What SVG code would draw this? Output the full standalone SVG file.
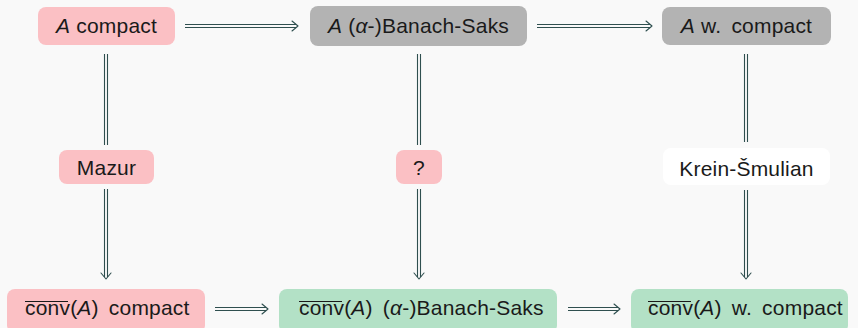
<svg xmlns="http://www.w3.org/2000/svg" width="858" height="328" viewBox="0 0 858 328">
  <defs>
    <style>
      .bg { fill: #f9f9f9; }
      .pink { fill: #fbc0c4; }
      .gray { fill: #b3b3b3; }
      .green { fill: #b3e1c6; }
      .white { fill: #ffffff; }
      .lbl { font-family: "Liberation Sans", Arial, sans-serif; font-size: 21px; fill: #1a1a1a; letter-spacing: 0.2px; }
      .it { font-style: italic; }
      .rail { stroke: #2f4f4f; stroke-width: 1.1; fill: none; }
      .head { stroke: #2f4f4f; stroke-width: 1.1; fill: none; stroke-linecap: round; stroke-linejoin: round; }
      .bar { stroke: #1a1a1a; stroke-width: 1.2; }
    </style>
  </defs>

  <rect class="bg" x="0" y="0" width="858" height="328"/>

  <!-- implication arrows -->
  <g id="connectors">
    <!-- top row -->
    <line class="rail" x1="185" y1="24.5" x2="296" y2="24.5"/>
    <line class="rail" x1="185" y1="27.5" x2="296" y2="27.5"/>
    <path class="head" d="M292 21 L298 26 L292 31"/>
    <line class="rail" x1="537" y1="24.5" x2="650" y2="24.5"/>
    <line class="rail" x1="537" y1="27.5" x2="650" y2="27.5"/>
    <path class="head" d="M646 21 L652 26 L646 31"/>
    <!-- bottom row -->
    <line class="rail" x1="215" y1="307.5" x2="266" y2="307.5"/>
    <line class="rail" x1="215" y1="310.5" x2="266" y2="310.5"/>
    <path class="head" d="M262 304 L268 309 L262 314"/>
    <line class="rail" x1="568" y1="307.5" x2="618" y2="307.5"/>
    <line class="rail" x1="568" y1="310.5" x2="618" y2="310.5"/>
    <path class="head" d="M614 304 L620 309 L614 314"/>
    <!-- left column -->
    <line class="rail" x1="104.5" y1="54" x2="104.5" y2="145"/>
    <line class="rail" x1="107.5" y1="54" x2="107.5" y2="145"/>
    <line class="rail" x1="104.5" y1="189" x2="104.5" y2="277"/>
    <line class="rail" x1="107.5" y1="189" x2="107.5" y2="277"/>
    <path class="head" d="M101 273 L106 279 L111 273"/>
    <!-- middle column -->
    <line class="rail" x1="417.5" y1="54" x2="417.5" y2="145"/>
    <line class="rail" x1="420.5" y1="54" x2="420.5" y2="145"/>
    <line class="rail" x1="417.5" y1="189" x2="417.5" y2="277"/>
    <line class="rail" x1="420.5" y1="189" x2="420.5" y2="277"/>
    <path class="head" d="M414 273 L419 279 L424 273"/>
    <!-- right column -->
    <line class="rail" x1="744.5" y1="54" x2="744.5" y2="142"/>
    <line class="rail" x1="747.5" y1="54" x2="747.5" y2="142"/>
    <line class="rail" x1="744.5" y1="190" x2="744.5" y2="277"/>
    <line class="rail" x1="747.5" y1="190" x2="747.5" y2="277"/>
    <path class="head" d="M741 273 L746 279 L751 273"/>
  </g>

  <g id="a-compact">
    <rect class="pink" x="38" y="7" width="137" height="38" rx="8"/>
    <text class="lbl" x="106.5" y="33" text-anchor="middle"><tspan class="it">A</tspan> compact</text>
  </g>

  <g id="a-banach-saks">
    <rect class="gray" x="310" y="6" width="217" height="40" rx="8"/>
    <text class="lbl" x="418.5" y="33" text-anchor="middle"><tspan class="it">A</tspan> (<tspan class="it">α</tspan>-)Banach-Saks</text>
  </g>

  <g id="a-weakly-compact">
    <rect class="gray" x="662" y="7" width="169" height="38" rx="8"/>
    <text class="lbl" x="746.5" y="33" text-anchor="middle"><tspan class="it">A</tspan> w. <tspan dx="4">compact</tspan></text>
  </g>

  <g id="mazur">
    <rect class="pink" x="59" y="150" width="95" height="34" rx="8"/>
    <text class="lbl" x="106.5" y="174.5" text-anchor="middle">Mazur</text>
  </g>

  <g id="open-question">
    <rect class="pink" x="396" y="150" width="46" height="34" rx="8"/>
    <text class="lbl" x="419" y="174.5" text-anchor="middle">?</text>
  </g>

  <g id="krein-smulian">
    <rect class="white" x="663" y="148" width="167" height="37" rx="8"/>
    <text class="lbl" x="746.5" y="175.5" text-anchor="middle">Krein-Šmulian</text>
  </g>

  <g id="conv-compact">
    <rect class="pink" x="7" y="289" width="198" height="44" rx="8"/>
    <text class="lbl" x="25" y="315">conv(<tspan class="it">A</tspan>) <tspan dx="4">compact</tspan></text>
    <line class="bar" x1="25" y1="301.5" x2="68" y2="301.5"/>
  </g>

  <g id="conv-banach-saks">
    <rect class="green" x="279" y="289" width="278" height="44" rx="8"/>
    <text class="lbl" x="299" y="315">conv(<tspan class="it">A</tspan>) <tspan dx="4">(</tspan><tspan class="it">α</tspan>-)Banach-Saks</text>
    <line class="bar" x1="299" y1="301.5" x2="342" y2="301.5"/>
  </g>

  <g id="conv-weakly-compact">
    <rect class="green" x="631" y="289" width="217" height="44" rx="8"/>
    <text class="lbl" x="648" y="315">conv(<tspan class="it">A</tspan>) <tspan dx="4">w.</tspan> <tspan dx="4">compact</tspan></text>
    <line class="bar" x1="648" y1="301.5" x2="691" y2="301.5"/>
  </g>
</svg>
